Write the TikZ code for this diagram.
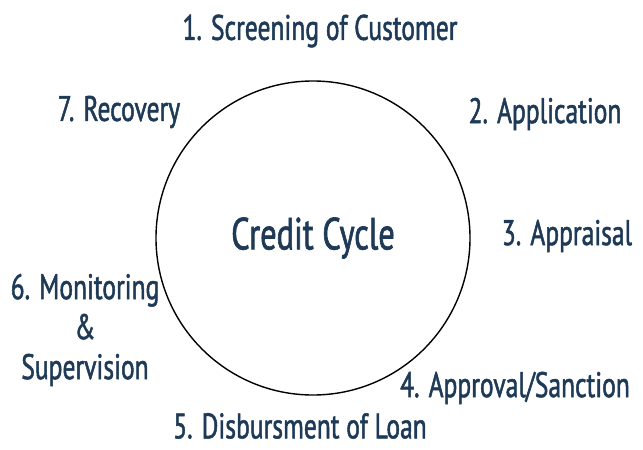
\documentclass[tikz,border=0pt]{standalone}
\usepackage{fontspec}
\setmainfont{PT Sans}[FakeStretch=0.72,FakeBold=1.4]
\definecolor{navy}{RGB}{30,58,86}
\begin{document}
\begin{tikzpicture}[x=1pt,y=-1pt]
    \tikzset{step label/.style={text=navy,font=\fontsize{35.5}{38}\selectfont,inner sep=0pt,align=center}}
    \useasboundingbox (0,0) rectangle (643,450);
    \node[draw,circle,line width=1.4pt,minimum size=314pt,inner sep=0pt,
          text=navy,font=\fontsize{45}{48}\selectfont] (cyc) at (313,238) {Credit Cycle};
    \node[step label] (scr) at (320,31) {1. Screening of Customer};
    \node[step label] (app) at (545,114) {2. Application};
    \node[step label] (apr) at (567,236) {3. Appraisal};
    \node[step label] (snc) at (515,388) {4. Approval/Sanction};
    \node[step label] (dis) at (300,426) {5. Disbursment of Loan};
    \node[step label,font=\fontsize{35.5}{40}\selectfont] (mon) at (85,330) {6. Monitoring\\\&\\Supervision};
    \node[step label] (rec) at (119,112) {7. Recovery};
  \end{tikzpicture}
\end{document}
